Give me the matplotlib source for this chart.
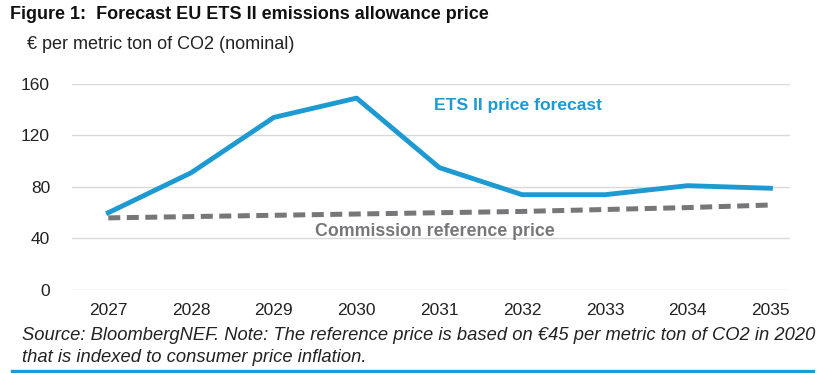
import matplotlib
matplotlib.use("Agg")
import matplotlib.pyplot as plt
from matplotlib.lines import Line2D

years = [2027, 2028, 2029, 2030, 2031, 2032, 2033, 2034, 2035]
ets2_price = [60, 91, 134, 149, 95, 74, 74, 81, 79]
reference_price = [56, 57, 58, 59, 60, 61, 62.5, 64, 66]
y_ticks = [0, 40, 80, 120, 160]

plt.rcParams['font.family'] = ['Liberation Sans', 'DejaVu Sans']

blue = '#1e9ad2'
grey = '#77777a'

fig = plt.figure(figsize=(8.31, 3.73), dpi=100)
ax = fig.add_axes([0.087, 0.2225, 0.864, 0.5525])

ax.plot(years, reference_price, color=grey, lw=3.6, dashes=(2.4, 1.3),
        dash_capstyle='butt', zorder=3)
ax.plot(years, ets2_price, color=blue, lw=3.5, solid_joinstyle='round', zorder=4)

ax.set_xlim(2026.565, 2035.24)
ax.set_ylim(0, 160)
ax.set_yticks(y_ticks)
ax.set_xticks(years)
ax.set_xticklabels([str(y) for y in years])
ax.grid(axis='y', color='#d9d9d9', lw=1)
ax.set_axisbelow(True)
for s in ax.spines.values():
    s.set_visible(False)
ax.tick_params(axis='both', length=0, labelsize=12.5, colors='#222222')
ax.tick_params(axis='y', pad=16)
ax.tick_params(axis='x', pad=9)

ax.text(2031.95, 143.5, 'ETS II price forecast', color=blue, fontsize=12.6,
        fontweight='bold', ha='center', va='center')
ax.text(2030.95, 45.5, 'Commission reference price', color=grey, fontsize=12.8,
        fontweight='bold', ha='center', va='center')

fig.text(0.012, 0.96, 'Figure 1:  Forecast EU ETS II emissions allowance price',
         fontsize=13, fontweight='bold', ha='left', va='center', color='#111111')
fig.text(0.032, 0.88, '€ per metric ton of CO2 (nominal)', fontsize=13,
         ha='left', va='center', color='#222222')
fig.text(0.026, 0.1, 'Source: BloombergNEF. Note: The reference price is based on €45 per metric ton of CO2 in 2020',
         fontsize=13.2, style='italic', ha='left', va='center', color='#222222')
fig.text(0.026, 0.042, 'that is indexed to consumer price inflation.',
         fontsize=13.2, style='italic', ha='left', va='center', color='#222222')

fig.add_artist(Line2D([0.014, 0.978], [0.006, 0.006], color=blue, lw=2.4,
                      transform=fig.transFigure))

fig.savefig('out.png', dpi=100)
